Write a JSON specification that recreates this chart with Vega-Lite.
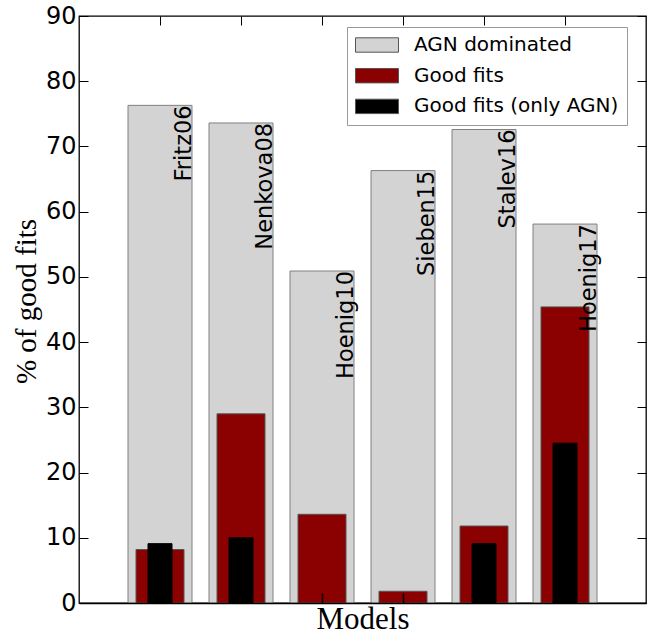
{
  "$schema": "https://vega.github.io/schema/vega-lite/v6.json",
  "autosize": "none",
  "width": 567,
  "height": 587,
  "padding": {"left": 79, "top": 16, "right": 6, "bottom": 36},
  "background": "white",
  "config": {
    "view": {"stroke": "#000000", "strokeWidth": 1.3},
    "axis": {"grid": false, "domain": false, "tickColor": "#000000", "tickWidth": 1, "labelColor": "#000000", "titleColor": "#000000"}
  },
  "data": {
    "values": [
      {"model": "Fritz06", "series": "AGN dominated", "value": 76.3},
      {"model": "Nenkova08", "series": "AGN dominated", "value": 73.6},
      {"model": "Hoenig10", "series": "AGN dominated", "value": 50.9},
      {"model": "Sieben15", "series": "AGN dominated", "value": 66.3},
      {"model": "Stalev16", "series": "AGN dominated", "value": 72.6},
      {"model": "Hoenig17", "series": "AGN dominated", "value": 58.1},
      {"model": "Fritz06", "series": "Good fits", "value": 8.2},
      {"model": "Nenkova08", "series": "Good fits", "value": 29.0},
      {"model": "Hoenig10", "series": "Good fits", "value": 13.6},
      {"model": "Sieben15", "series": "Good fits", "value": 1.8},
      {"model": "Stalev16", "series": "Good fits", "value": 11.8},
      {"model": "Hoenig17", "series": "Good fits", "value": 45.4},
      {"model": "Fritz06", "series": "Good fits (only AGN)", "value": 9.1},
      {"model": "Nenkova08", "series": "Good fits (only AGN)", "value": 10.0},
      {"model": "Stalev16", "series": "Good fits (only AGN)", "value": 9.1},
      {"model": "Hoenig17", "series": "Good fits (only AGN)", "value": 24.5}
    ]
  },
  "layer": [
    {
      "transform": [{"filter": "datum.series === 'AGN dominated'"}],
      "mark": {"type": "bar", "width": 64, "stroke": "#808080", "strokeWidth": 1},
      "encoding": {
        "x": {
          "field": "model", "type": "nominal", "sort": null,
          "scale": {"paddingInner": 0, "paddingOuter": 0.5},
          "axis": {"orient": "bottom", "labels": false, "tickSize": -10, "tickWidth": 1.5, "title": "Models", "titleFont": "Liberation Serif", "titleFontSize": 31, "titleFontWeight": "normal", "titlePadding": 1, "domain": true, "domainColor": "#000000", "domainWidth": 1.5, "zindex": 1}
        },
        "y": {
          "field": "value", "type": "quantitative", "stack": null,
          "scale": {"domain": [0, 90], "nice": false},
          "axis": {"orient": "left", "values": [0, 10, 20, 30, 40, 50, 60, 70, 80, 90], "tickSize": -9, "labelPadding": 12, "labelFont": "DejaVu Sans", "labelFontSize": 24, "title": "% of good fits", "titleFont": "Liberation Serif", "titleFontSize": 29, "titleFontWeight": "normal", "titlePadding": 4, "titleY": 285}
        },
        "color": {
          "field": "series", "type": "nominal",
          "scale": {"domain": ["AGN dominated", "Good fits", "Good fits (only AGN)"], "range": ["#d3d3d3", "#8b0000", "#000000"]},
          "legend": {
            "title": null, "orient": "none", "legendX": 268, "legendY": 11,
            "symbolType": "M-1,-0.335H1V0.335H-1Z", "symbolSize": 1849,
            "clipHeight": 20, "rowPadding": 10.7, "padding": 8, "labelOffset": 15,
            "labelFont": "DejaVu Sans", "labelFontSize": 20, "labelColor": "#000000", "labelLimit": 400,
            "strokeColor": "#999999", "fillColor": "#ffffff", "cornerRadius": 0,
            "symbolStrokeColor": "#808080", "symbolStrokeWidth": 1, "symbolOpacity": 1
          }
        }
      }
    },
    {
      "transform": [{"filter": "datum.series === 'Good fits'"}],
      "mark": {"type": "bar", "width": 48, "stroke": "#555555", "strokeWidth": 1},
      "encoding": {
        "x": {"field": "model", "type": "nominal", "sort": null, "axis": {"orient": "top", "labels": false, "tickSize": -9, "title": null}},
        "y": {"field": "value", "type": "quantitative", "stack": null, "axis": {"orient": "right", "values": [0, 10, 20, 30, 40, 50, 60, 70, 80, 90], "labels": false, "tickSize": -9, "title": null}},
        "color": {"field": "series", "type": "nominal"}
      }
    },
    {
      "transform": [{"filter": "datum.series === 'Good fits (only AGN)'"}],
      "mark": {"type": "bar", "width": 24, "stroke": "#000000", "strokeWidth": 1},
      "encoding": {
        "x": {"field": "model", "type": "nominal", "sort": null, "axis": null},
        "y": {"field": "value", "type": "quantitative", "stack": null, "axis": null},
        "color": {"field": "series", "type": "nominal"}
      }
    },
    {
      "transform": [{"filter": "datum.series === 'AGN dominated'"}],
      "mark": {"type": "text", "angle": 270, "align": "right", "baseline": "alphabetic", "xOffset": 31, "font": "DejaVu Sans", "fontSize": 22.5, "color": "#000000"},
      "encoding": {
        "x": {"field": "model", "type": "nominal", "sort": null, "axis": null},
        "y": {"field": "value", "type": "quantitative", "axis": null},
        "text": {"field": "model"}
      }
    }
  ],
  "resolve": {"axis": {"x": "independent", "y": "independent"}}
}
